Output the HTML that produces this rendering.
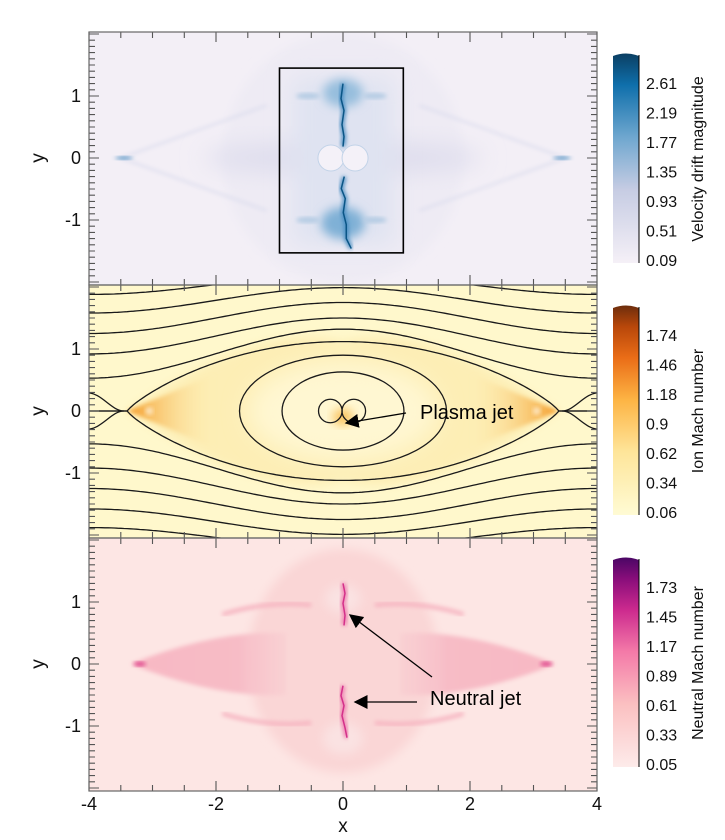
<!DOCTYPE html>
<html><head><meta charset="utf-8">
<style>
html,body{margin:0;padding:0;background:#fff;}
svg{display:block;font-family:"Liberation Sans","DejaVu Sans",sans-serif;}
</style></head>
<body>
<svg id="fig" width="725" height="840" viewBox="0 0 725 840" xmlns="http://www.w3.org/2000/svg">
<defs>
  <filter id="b2" x="-20%" y="-20%" width="140%" height="140%"><feGaussianBlur stdDeviation="2"/></filter>
  <filter id="b5" x="-30%" y="-30%" width="160%" height="160%"><feGaussianBlur stdDeviation="5"/></filter>
  <filter id="b12" x="-50%" y="-50%" width="200%" height="200%"><feGaussianBlur stdDeviation="12"/></filter>
  <linearGradient id="cb1" x1="0" y1="1" x2="0" y2="0"><stop offset="0" stop-color="#f5f0f7"/><stop offset="0.35" stop-color="#c6cce3"/><stop offset="0.6" stop-color="#6fa7cf"/><stop offset="0.85" stop-color="#0f6fab"/><stop offset="1" stop-color="#0b3f63"/></linearGradient>
  <linearGradient id="cb2" x1="0" y1="1" x2="0" y2="0"><stop offset="0" stop-color="#fffbd4"/><stop offset="0.3" stop-color="#fee59a"/><stop offset="0.55" stop-color="#fdb444"/><stop offset="0.75" stop-color="#ea6d17"/><stop offset="0.9" stop-color="#b8470a"/><stop offset="1" stop-color="#6d2d0c"/></linearGradient>
  <linearGradient id="cb3" x1="0" y1="1" x2="0" y2="0"><stop offset="0" stop-color="#fdebea"/><stop offset="0.3" stop-color="#fbc0c1"/><stop offset="0.55" stop-color="#f47aa8"/><stop offset="0.75" stop-color="#cc2a8e"/><stop offset="0.9" stop-color="#880d7a"/><stop offset="1" stop-color="#4a0665"/></linearGradient>
  <linearGradient id="orL" x1="0" y1="0" x2="1" y2="0"><stop offset="0" stop-color="#f49a25"/><stop offset="1" stop-color="#fde9a8" stop-opacity="0"/></linearGradient>
  <linearGradient id="orR" x1="1" y1="0" x2="0" y2="0"><stop offset="0" stop-color="#f49a25"/><stop offset="1" stop-color="#fde9a8" stop-opacity="0"/></linearGradient>
  <linearGradient id="pkL" x1="0" y1="0" x2="1" y2="0"><stop offset="0" stop-color="#f8b8c4"/><stop offset="0.7" stop-color="#f7bcc6"/><stop offset="1" stop-color="#f7c4cc" stop-opacity="0.3"/></linearGradient>
  <linearGradient id="pkR" x1="1" y1="0" x2="0" y2="0"><stop offset="0" stop-color="#f8b8c4"/><stop offset="0.7" stop-color="#f7bcc6"/><stop offset="1" stop-color="#f7c4cc" stop-opacity="0.3"/></linearGradient>
  <clipPath id="c1"><rect x="89" y="32" width="508" height="253"/></clipPath>
  <clipPath id="c2"><rect x="89" y="285" width="508" height="253"/></clipPath>
  <clipPath id="c3"><rect x="89" y="538" width="508" height="253"/></clipPath>
  <marker id="ah" viewBox="0 0 10 10" refX="9" refY="5" markerWidth="14" markerHeight="14" orient="auto" markerUnits="userSpaceOnUse"><path d="M0,0 L10,5 L0,10 z" fill="#000"/></marker>
</defs>
<g id="root"></g>
</svg>
<script>
// ---- data ----
var xTicks = [-4, -2, 0, 2, 4];
var yTicks = [1, 0, -1];
var cbLabels1 = ["2.61","2.19","1.77","1.35","0.93","0.51","0.09"];
var cbLabels2 = ["1.74","1.46","1.18","0.9","0.62","0.34","0.06"];
var cbLabels3 = ["1.73","1.45","1.17","0.89","0.61","0.33","0.05"];
var cbTitles = ["Velocity drift magnitude","Ion Mach number","Neutral Mach number"];
var fieldEdgeY = [0.53, 0.92, 1.25, 1.58, 1.88];
var fieldCenterY = [1.32, 1.50, 1.75, 1.99, 2.2];
var separatrixTop = 1.12;
var xPoint = 3.4;
var ellipseRx = [1.63, 0.96];
var ellipseRy = [0.90, 0.63];
var loopCx = [-0.2, 0.17];
var loopR = [0.19, 0.19];

var NS = "http://www.w3.org/2000/svg";
var root = document.getElementById("root");
function mk(tag, attrs, parent){ var e=document.createElementNS(NS,tag); for(var k in attrs) e.setAttribute(k,attrs[k]); (parent||root).appendChild(e); return e; }

var L=89, R=597, H=253, tops=[32,285,538];
function sx(x){ return L + (x+4)*(R-L)/8; }
function syF(p){ var y0=tops[p]+126; return function(y){ return y0 - y*62; }; }

var bgs=["#f3eff6","#fff8cc","#fde6e4"];
var names=["drift-panel","ion-mach-panel","neutral-mach-panel"];
for (var p=0;p<3;p++){
  var r=mk("rect",{x:L,y:tops[p],width:R-L,height:H,fill:bgs[p]});
  
  
}

// ---- panel 1 ----
(function(){
  var sy=syF(0);
  var g=mk("g",{"clip-path":"url(#c1)"});
  
  
  mk("ellipse",{cx:sx(0),cy:sy(0),rx:sx(1.9)-sx(0),ry:125,fill:"#eeebf4",filter:"url(#b5)"},g);
  mk("ellipse",{cx:sx(0),cy:sy(0),rx:sx(2.2)-sx(0),ry:16,fill:"#dedded",filter:"url(#b12)"},g);
  [-1,1].forEach(function(s){
    mk("path",{d:"M"+sx(s*3.5)+","+sy(0)+" L"+sx(s*1.2)+","+sy(0.85)+" M"+sx(s*3.5)+","+sy(0)+" L"+sx(s*1.2)+","+sy(-0.85),stroke:"#d3d6ea","stroke-width":1.5,fill:"none",filter:"url(#b2)"},g);
    mk("ellipse",{cx:sx(s*3.45),cy:sy(0),rx:9,ry:1.5,fill:"#4a8fc2",filter:"url(#b2)"},g);
  });
  mk("rect",{x:sx(-0.8),y:sy(1.3),width:sx(0.8)-sx(-0.8),height:sy(-1.4)-sy(1.3),fill:"#dfe3f1",filter:"url(#b12)"},g);
  mk("ellipse",{cx:sx(0),cy:sy(1.05),rx:20,ry:14,fill:"#96bedd",filter:"url(#b5)"},g);
  mk("ellipse",{cx:sx(0),cy:sy(-1.05),rx:22,ry:16,fill:"#7fb0d6",filter:"url(#b5)"},g);
  var jet="M"+sx(0)+","+sy(1.2)+" l-2,15 3,12 -2,14 2,12 -1,10 M"+sx(0.02)+","+sy(-0.3)+" l-3,12 4,10 -2,14 3,12 0,14 5,10";
  mk("path",{d:jet,stroke:"#3f88bf","stroke-width":4,fill:"none",filter:"url(#b2)"},g);
  mk("path",{d:jet,stroke:"#0a5586","stroke-width":1.5,fill:"none"},g);
  [[-0.55,1.0],[0.5,1.0],[-0.55,-1.0],[0.5,-1.0]].forEach(function(q){
    mk("ellipse",{cx:sx(q[0]),cy:sy(q[1]),rx:12,ry:3,fill:"#b3cbe3",filter:"url(#b2)"},g);
  });
  mk("circle",{cx:sx(-0.19),cy:sy(0),r:13,fill:"#f4f1f8",stroke:"#c2d3e8","stroke-width":1},g);
  mk("circle",{cx:sx(0.19),cy:sy(0),r:13,fill:"#f4f1f8",stroke:"#c2d3e8","stroke-width":1},g);
  var box=mk("rect",{x:sx(-1),y:sy(1.45),width:sx(0.95)-sx(-1),height:sy(-1.53)-sy(1.45),fill:"none",stroke:"#000","stroke-width":1.6},g);
  
  
})();

// ---- panel 2 ----
(function(){
  var sy=syF(1);
  var g=mk("g",{"clip-path":"url(#c2)"});
  
  
  var lens="M"+sx(-xPoint)+","+sy(0)+" Q"+sx(-1.2)+","+sy(1.5)+" "+sx(0)+","+sy(1.12)+" Q"+sx(1.2)+","+sy(1.5)+" "+sx(xPoint)+","+sy(0)+" Q"+sx(1.2)+","+sy(-1.5)+" "+sx(0)+","+sy(-1.12)+" Q"+sx(-1.2)+","+sy(-1.5)+" "+sx(-xPoint)+","+sy(0)+"Z";
  mk("path",{d:lens,fill:"#fdeeb5",filter:"url(#b5)"},g);
  mk("ellipse",{cx:sx(0),cy:sy(0),rx:sx(1.5)-sx(0),ry:50,fill:"#fff7d2",filter:"url(#b12)"},g);
  mk("path",{d:"M"+sx(-3.4)+","+sy(0)+" L"+sx(-2.0)+","+sy(0.6)+" L"+sx(-2.0)+","+sy(-0.6)+"Z",fill:"url(#orL)",filter:"url(#b2)"},g);
  mk("path",{d:"M"+sx(3.4)+","+sy(0)+" L"+sx(2.0)+","+sy(0.6)+" L"+sx(2.0)+","+sy(-0.6)+"Z",fill:"url(#orR)",filter:"url(#b2)"},g);
  [-1,1].forEach(function(s){
    mk("circle",{cx:sx(s*3.05),cy:sy(0),r:4,fill:"#fde3b8",filter:"url(#b2)"},g);
  });
  mk("ellipse",{cx:sx(0),cy:sy(-0.1),rx:10,ry:8,fill:"#f9c15a",filter:"url(#b5)"},g);
  var ls={fill:"none",stroke:"#1a1a1a","stroke-width":1.3};
  function curve(fn){ var d=""; for(var i=0;i<=160;i++){ var x=-4+8*i/160; d+=(i?"L":"M")+sx(x).toFixed(1)+","+fn(x).toFixed(1); } return d; }
  for (var i=0;i<fieldEdgeY.length;i++){
    [1,-1].forEach(function(s){
      var ye=fieldEdgeY[i], yc=fieldCenterY[i];
      var pth=mk("path",Object.assign({d:curve(function(x){ var t=Math.abs(x)/4; var f=Math.pow(Math.cos(Math.PI*Math.min(t,1)/2),2); return sy(s*(ye+(yc-ye)*f)); })},ls),g);
      
      
    });
  }
  [1,-1].forEach(function(s){
    var pth=mk("path",Object.assign({d:curve(function(x){ var t=Math.abs(x)/xPoint; if(t>=1) return sy(0); return sy(s*separatrixTop*Math.pow(1-t*t,0.85)); })},ls),g);
    
    
  });
  [-1,1].forEach(function(s){
    var d="M"+sx(s*4.05)+","+sy(0.3)+" C"+sx(s*3.8)+","+sy(0.3)+" "+sx(s*3.65)+","+sy(0)+" "+sx(s*3.45)+","+sy(0)+" C"+sx(s*3.65)+","+sy(0)+" "+sx(s*3.8)+","+sy(-0.3)+" "+sx(s*4.05)+","+sy(-0.3);
    var pth=mk("path",Object.assign({d:d},ls),g);
    
    
  });
  for (var j=0;j<ellipseRx.length;j++){
    var e=mk("ellipse",Object.assign({cx:sx(0),cy:sy(0),rx:sx(ellipseRx[j])-sx(0),ry:ellipseRy[j]*62},ls),g);
    
    
  }
  for (var k=0;k<loopCx.length;k++){
    var c=mk("circle",Object.assign({cx:sx(loopCx[k]),cy:sy(0),r:loopR[k]*62},ls),g);
    
    
  }
})();

// ---- panel 3 ----
(function(){
  var sy=syF(2);
  var g=mk("g",{"clip-path":"url(#c3)"});
  
  
  mk("ellipse",{cx:sx(0),cy:sy(0.05),rx:sx(1.5)-sx(0),ry:112,fill:"#fad6d6",filter:"url(#b5)"},g);
  mk("path",{d:"M"+sx(-3.35)+","+sy(0)+" Q"+sx(-2)+","+sy(0.55)+" "+sx(-0.9)+","+sy(0.5)+" L"+sx(-0.9)+","+sy(-0.5)+" Q"+sx(-2)+","+sy(-0.55)+" "+sx(-3.35)+","+sy(0)+"Z",fill:"url(#pkL)",filter:"url(#b2)"},g);
  mk("path",{d:"M"+sx(3.35)+","+sy(0)+" Q"+sx(2)+","+sy(0.55)+" "+sx(0.9)+","+sy(0.5)+" L"+sx(0.9)+","+sy(-0.5)+" Q"+sx(2)+","+sy(-0.55)+" "+sx(3.35)+","+sy(0)+"Z",fill:"url(#pkR)",filter:"url(#b2)"},g);
  [-1,1].forEach(function(s){
    mk("ellipse",{cx:sx(s*3.2),cy:sy(0),rx:6,ry:2.5,fill:"#e0488e",filter:"url(#b2)"},g);
    mk("path",{d:"M"+sx(s*0.5)+","+sy(0.95)+" Q"+sx(s*1.2)+","+sy(1.02)+" "+sx(s*1.9)+","+sy(0.8),stroke:"#f6b3c0","stroke-width":4,fill:"none",filter:"url(#b2)"},g);
    mk("path",{d:"M"+sx(s*0.5)+","+sy(-0.95)+" Q"+sx(s*1.2)+","+sy(-1.02)+" "+sx(s*1.9)+","+sy(-0.8),stroke:"#f6b3c0","stroke-width":4,fill:"none",filter:"url(#b2)"},g);
  });
  mk("ellipse",{cx:sx(0),cy:sy(1.05),rx:18,ry:14,fill:"#fae2e2",filter:"url(#b5)"},g);
  mk("ellipse",{cx:sx(0),cy:sy(-1.2),rx:20,ry:16,fill:"#fae2e2",filter:"url(#b5)"},g);
  var jet="M"+sx(0)+","+sy(1.3)+" l2,10 -2,10 2,12 -1,10 M"+sx(0)+","+sy(-0.35)+" l-2,10 3,10 -2,10 3,12 2,10";
  mk("path",{d:jet,stroke:"#ee7fb0","stroke-width":5,fill:"none",filter:"url(#b2)"},g);
  mk("path",{d:jet,stroke:"#d4308a","stroke-width":1.5,fill:"none"},g);
})();

// ---- axes ----
for (var p2=0;p2<3;p2++){
  var syy=syF(p2), t=tops[p2], b=t+H;
  var ax=mk("g",{});
  
  
  var d="";
  for (var xv=-4;xv<=4.001;xv+=0.5){
    var major=(Math.abs(xv%2)<1e-6), len=major?10:6, X=sx(xv).toFixed(1);
    d+="M"+X+","+b+"v-"+len+"M"+X+","+t+"v"+len;
  }
  for (var yv=-20;yv<=20;yv++){
    var Y=syy(yv/10);
    if (Y<t+1||Y>b-1) continue;
    var len2=(yv%10===0)?10:6;
    d+="M"+L+","+Y.toFixed(1)+"h"+len2+"M"+R+","+Y.toFixed(1)+"h-"+len2;
  }
  mk("path",{d:d,stroke:"#555","stroke-width":1.1,fill:"none"},ax);
  mk("rect",{x:L,y:t,width:R-L,height:H,fill:"none",stroke:"#666","stroke-width":1.2},ax);
  yTicks.forEach(function(v){
    var tx=mk("text",{x:81,y:syy(v)+6,"text-anchor":"end","font-size":18,fill:"#111"},ax);
    tx.textContent=(v<0?"-"+Math.abs(v):String(v));
    
    
  });
  var yl=mk("text",{x:0,y:0,transform:"translate(44,"+syy(0)+") rotate(-90)","text-anchor":"middle","font-size":19,fill:"#111"},ax);
  yl.textContent="y";
  
  
}
xTicks.forEach(function(v){
  var tx=mk("text",{x:sx(v),y:810,"text-anchor":"middle","font-size":18,fill:"#111"});
  tx.textContent=(v<0?"-"+Math.abs(v):String(v));
  
  
});
var xl=mk("text",{x:sx(0),y:832,"text-anchor":"middle","font-size":19,fill:"#111"});
xl.textContent="x";



// ---- colorbars ----
var cbLabels=[cbLabels1,cbLabels2,cbLabels3];
var cbTop=[53,305,557];
for (var c=0;c<3;c++){
  var cg=mk("g",{});
  
  
  var cbT=cbTop[c], cbB=cbT+210;
  mk("path",{d:"M613,"+(cbT+3)+" Q626,"+(cbT-2)+" 639,"+(cbT+3)+" V"+cbB+" H613 Z",fill:"url(#cb"+(c+1)+")"},cg);
  mk("line",{x1:639,y1:cbT+2,x2:639,y2:cbB,stroke:"#000","stroke-width":1},cg);
  for (var i=0;i<cbLabels[c].length;i++){
    var ty=cbT+30+i*29.5;
    var tl=mk("text",{x:646,y:ty+6,"font-size":16,fill:"#111"},cg);
    tl.textContent=cbLabels[c][i];
    
    
  }
  var tt=mk("text",{x:0,y:0,transform:"translate(703,"+(cbT+106)+") rotate(-90)","text-anchor":"middle","font-size":16,fill:"#111"},cg);
  tt.textContent=cbTitles[c];
  
  
}

// ---- annotations ----
var a1=mk("line",{x1:406,y1:413,x2:346,y2:423,stroke:"#000","stroke-width":1.3,"marker-end":"url(#ah)"});


var t1=mk("text",{x:420,y:419,"font-size":20,fill:"#000"});
t1.textContent="Plasma jet";


var a2=mk("line",{x1:432,y1:677,x2:350,y2:615,stroke:"#000","stroke-width":1.3,"marker-end":"url(#ah)"});


var a3=mk("line",{x1:417,y1:702,x2:355,y2:702,stroke:"#000","stroke-width":1.3,"marker-end":"url(#ah)"});


var t2=mk("text",{x:430,y:705,"font-size":20,fill:"#000"});
t2.textContent="Neutral jet";


</script>
</body></html>
